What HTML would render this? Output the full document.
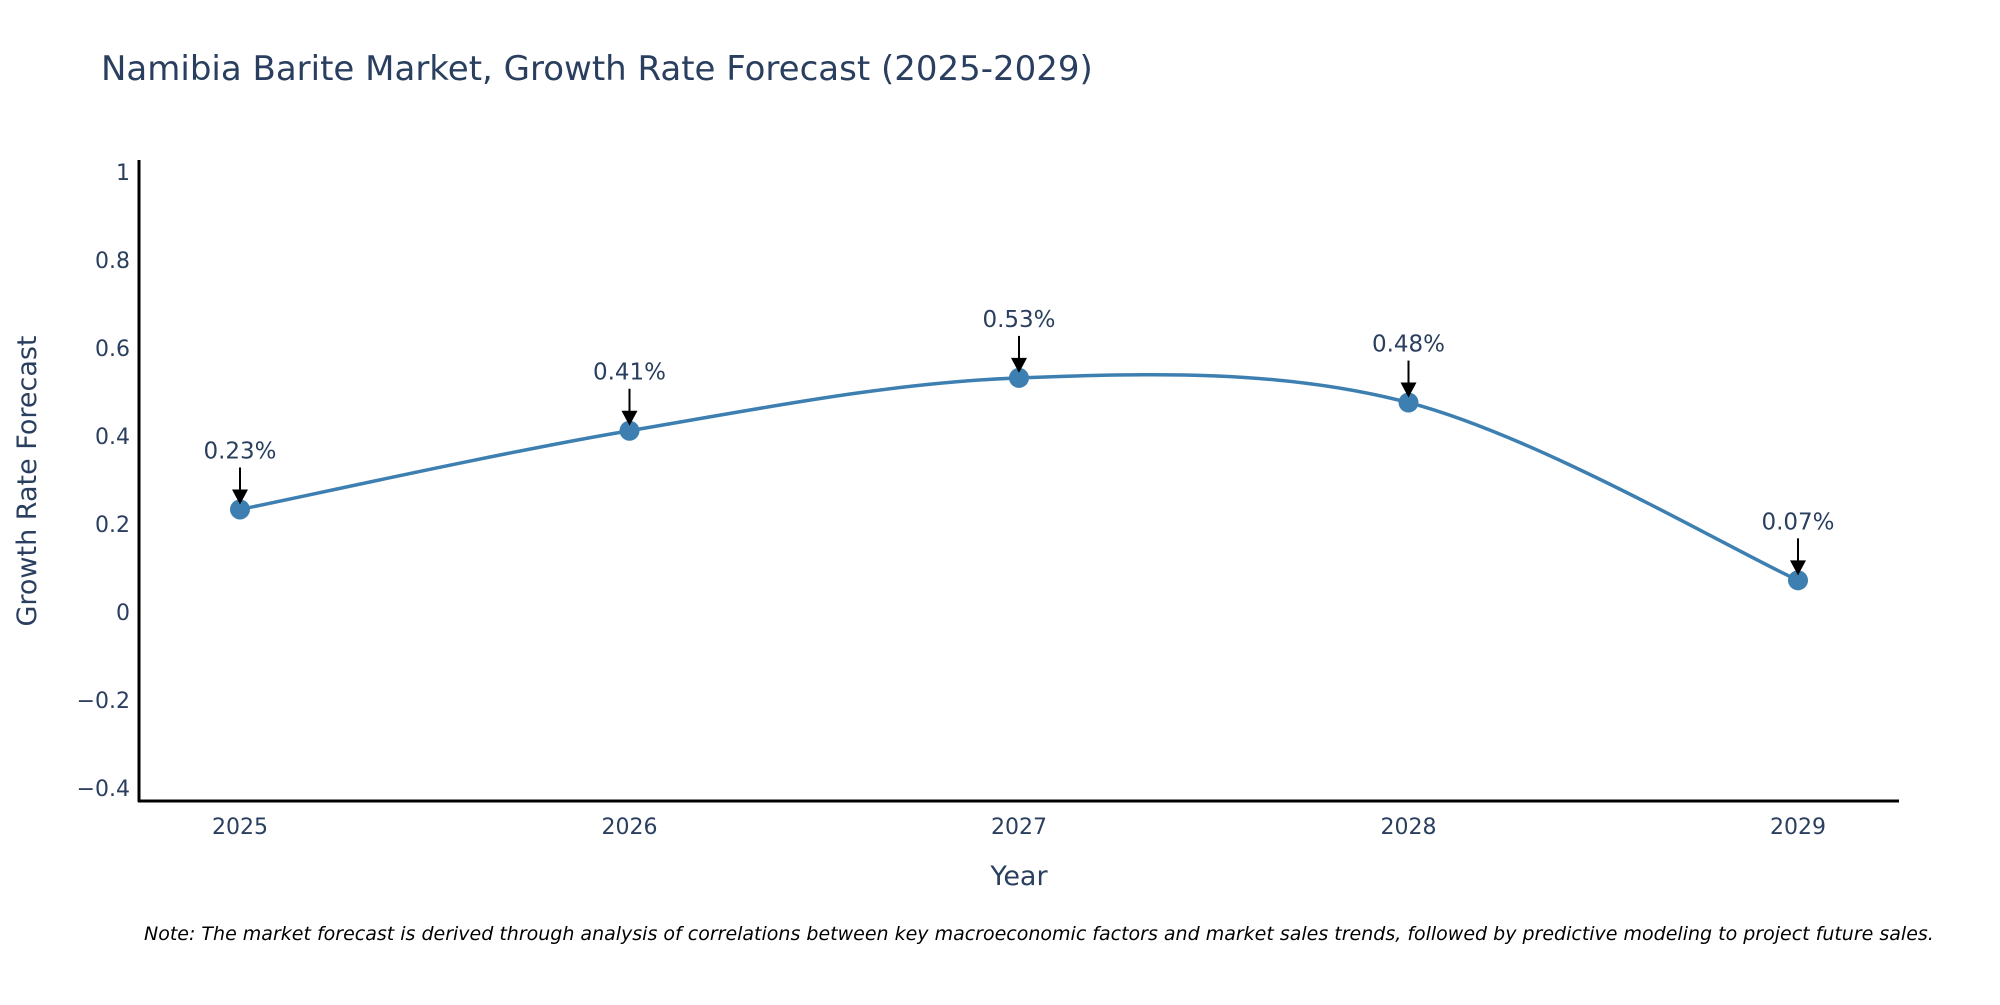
<!DOCTYPE html>
<html><head><meta charset="utf-8"><style>
body{margin:0;background:#fff;}
svg text{font-family:"DejaVu Sans","Liberation Sans",sans-serif;fill:#2a3f5f;}
</style></head><body>
<svg id="chart" width="2000" height="1000" xmlns="http://www.w3.org/2000/svg">
<text x="101" y="80" font-size="34">Namibia Barite Market, Growth Rate Forecast (2025-2029)</text>
<g id="yticks"></g><g id="xticks"></g>
<line x1="139" y1="160" x2="139" y2="802" stroke="#000" stroke-width="3"/>
<line x1="138" y1="801" x2="1899" y2="801" stroke="#000" stroke-width="3"/>
<text transform="translate(36,481) rotate(-90)" text-anchor="middle" font-size="27">Growth Rate Forecast</text>
<text x="1019" y="885" text-anchor="middle" font-size="27">Year</text>
<g id="series"></g>
<text x="144" y="940" font-size="19" font-style="italic" style="fill:#000">Note: The market forecast is derived through analysis of correlations between key macroeconomic factors and market sales trends, followed by predictive modeling to project future sales.</text>
</svg>
<script>
const categories=["2025","2026","2027","2028","2029"];
const values=[0.233,0.412,0.532,0.476,0.072];
const valueLabels=["0.23%","0.41%","0.53%","0.48%","0.07%"];
const yTicks=[-0.4,-0.2,0,0.2,0.4,0.6,0.8,1];
const yTickLabels=["\u22120.4","\u22120.2","0","0.2","0.4","0.6","0.8","1"];
const NS="http://www.w3.org/2000/svg";
function xs(i){return 240+i*389.5;}
function ys(v){return 612-v*440;}
function mk(t,a,p){const e=document.createElementNS(NS,t);for(const k in a)e.setAttribute(k,a[k]);p.appendChild(e);return e;}
const yt=document.getElementById('yticks');
yTicks.forEach((v,i)=>{const t=mk('text',{x:130,y:ys(v)+8,'text-anchor':'end','font-size':22},yt);


t.textContent=yTickLabels[i];});
const xt=document.getElementById('xticks');
categories.forEach((c,i)=>{const t=mk('text',{x:xs(i),y:834,'text-anchor':'middle','font-size':22},xt);


t.textContent=c;});
const s=document.getElementById('series');
const P=values.map((v,i)=>[xs(i),ys(v)]);
let d='M'+P[0][0]+','+P[0][1];
const k=0.5;
for(let i=0;i<P.length-1;i++){
 const p0=P[Math.max(0,i-1)],p1=P[i],p2=P[i+1],p3=P[Math.min(P.length-1,i+2)];
 const c1=[p1[0]+(p2[0]-p0[0])*k/3,p1[1]+(p2[1]-p0[1])*k/3];
 const c2=[p2[0]-(p3[0]-p1[0])*k/3,p2[1]-(p3[1]-p1[1])*k/3];
 d+=' C'+c1.join(',')+' '+c2.join(',')+' '+p2.join(',');
}
const line=mk('path',{d:d,fill:'none',stroke:'#3d7fb1','stroke-width':3.5},s);


P.forEach((p,i)=>{
 const c=mk('circle',{cx:p[0],cy:p[1],r:10,fill:'#3d7fb1'},s);
 
 
 const a=mk('line',{x1:p[0],y1:p[1]-42,x2:p[0],y2:p[1]-18,stroke:'#000','stroke-width':2},s);
 
 
 const h=mk('polygon',{points:(p[0]-8)+','+(p[1]-20)+' '+(p[0]+8)+','+(p[1]-20)+' '+p[0]+','+(p[1]-5),fill:'#000'},s);
 
 
 const t=mk('text',{x:p[0],y:p[1]-51,'text-anchor':'middle','font-size':23},s);
 
 
 t.textContent=valueLabels[i];
});
</script>
</body></html>
